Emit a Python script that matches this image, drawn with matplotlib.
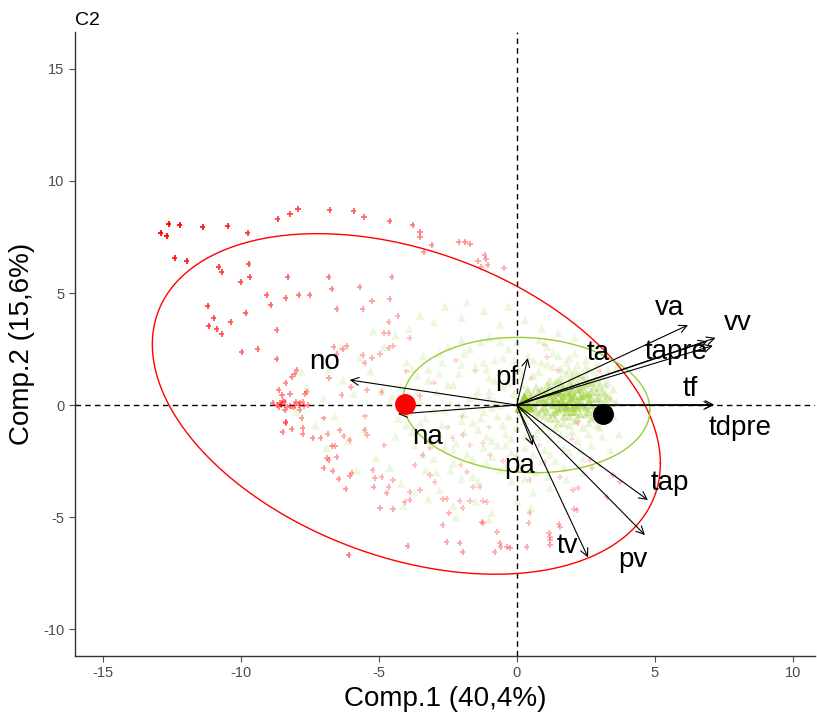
import numpy as np
import matplotlib.pyplot as plt

plt.rcParams['font.family'] = ['Liberation Sans', 'DejaVu Sans']
plt.rcParams['axes.unicode_minus'] = False

# individuals, group 1 (red)
red_x = [-12.9, -12.68, -12.61, -12.21, -11.38, -10.47, -9.75, -12.39, -11.96, -10.8, -10.69, -9.71, -9.67, -10.0,
         -8.66, -8.22, -7.93, -6.78, -5.91, -5.54, -4.6, -3.77, -3.51, -3.51, -3.08, -3.37, -2.1, -1.88, -1.7,
         -1.16, -1.12, -1.41, -1.3, -1.05, -0.47, -8.3, -6.81, -6.7, -5.69, -4.53, -9.06, -8.37, -7.9, -7.5,
         -5.25, -4.6,
         -11.2, -10.98, -11.16, -10.87, -10.69, -10.36, -9.82, -8.7, -9.38, -9.96, -8.7, -8.91, -6.52, -5.58,
         -4.31, -4.64, -4.82, -4.64, -3.88, -4.64, -4.49, -6.16, -6.3, -6.63, -6.52, -5.58, -5.25, -4.96, -5.51,
         -7.97, -8.04, -8.15, -8.37, -8.62, -8.51, -8.22, -7.68, -7.61,
         -8.84, -8.59, -8.41, -8.33, -7.86, -7.75, -7.57, -8.04, -8.41, -7.86, -8.37, -7.79, -6.34, -5.43, -4.89,
         -8.7, -8.5, -8.2, -7.9, -8.6, -7.7, -8.45, -8.0, -8.55, -8.1,
         -8.37, -8.48, -8.15, -7.75, -7.75, -7.39, -7.1, -6.85, -6.41, -6.27, -6.05, -6.7, -6.59, -6.88, -6.81,
         -6.52, -6.99, -6.67, -6.45, -6.05, -5.98, -6.2, -5.51, -5.43, -5.22, -5.14, -4.89, -5.18, -4.64, -4.49,
         -4.71, -4.96, -4.49, -4.06, -3.88, -3.88, -3.51, -3.7, -3.15, -2.97, -2.68, -2.54, -2.07, -1.7, -2.46,
         -2.68, -1.96, -1.59, -1.34, -1.23, -1.09, -1.27, -0.72, -2.54, -2.07, -1.96, -0.62, -0.58, -0.8, -0.36,
         -3.95, -6.09, -2.03, -1.81, -0.98, -1.23, -2.32, -1.96, -1.7, -3.15, -3.41,
         -1.23, -0.25, 0.47, 0.43, 0.36, 1.16, 1.2, 1.52, 2.07, 2.21, 3.26, 0.47,
         1.09, 1.49, 1.01, 1.56, 2.03, 2.17, 1.56, 1.2, 1.2, 3.48, 3.73, 2.72, 2.64,
         -3.0, -2.0, -1.5, -1.0, 0.5, 1.5, 2.5, -2.5, 3.0, 2.0, -0.5, 1.0, -3.5, -1.0, 0.8, 2.2, -2.2, -4.0,
         -5.5, -4.8, -6.0, -7.0, -6.8]
red_y = [7.68, 7.54, 8.08, 8.04, 7.95, 7.99, 7.68, 6.56, 6.43, 6.16, 5.94, 6.29, 5.71, 5.49,
         8.3, 8.53, 8.75, 8.71, 8.66, 8.39, 8.21, 8.04, 7.72, 7.5, 7.14, 6.83, 7.28, 7.28, 7.19,
         6.7, 6.52, 6.43, 6.16, 6.25, 6.12, 5.71, 5.71, 5.18, 5.27, 5.71, 4.91, 4.78, 4.91, 4.91,
         4.64, 4.73,
         4.42, 3.88, 3.53, 3.39, 3.17, 3.71, 4.11, 3.35, 2.5, 2.37, 2.05, 4.46, 4.29, 4.29,
         3.97, 3.71, 3.21, 3.21, 2.99, 2.54, 2.63, 2.63, 2.5, 2.59, 2.28, 2.23, 2.1, 2.28, 1.88,
         1.56, 1.38, 1.25, 0.98, 0.67, 0.45, 0.49, 0.49, 0.58,
         0.09, 0.09, 0.13, -0.09, 0.09, 0.13, 0.0, 0.0, -0.22, -0.22, -0.76, -0.58, 0.45, 0.67, 0.58,
         0.0, 0.05, -0.05, 0.0, -0.1, -0.05, 0.2, 0.15, 0.02, -0.12,
         -0.8, -1.21, -1.07, -1.03, -1.29, -1.47, -1.47, -1.29, -1.12, -1.38, -1.56, -1.83, -1.83, -2.37, -2.46,
         -2.32, -2.81, -2.95, -3.3, -3.17, -3.04, -3.75, -1.12, -1.34, -2.9, -3.26, -3.21, -3.66, -3.66, -3.35,
         -3.93, -4.6, -4.64, -4.33, -4.24, -3.88, -3.79, -2.68, -3.13, -3.44, -4.2, -4.2, -4.29, -4.29, -4.82,
         -5.36, -4.6, -3.66, -3.66, -4.29, -4.33, -5.22, -5.67, -6.12, -6.16, -6.56, -6.16, -6.34, -6.56, -6.34,
         -6.29, -6.7, -2.68, -2.99, -2.23, -1.7, -1.47, -1.34, -1.79, -1.92, -2.23,
         -5.27, -6.38, -4.82, -5.27, -6.34, -5.71, -6.03, -5.31, -4.64, -3.71, -4.11, -3.35,
         2.14, 1.56, -2.54, -3.21, -3.79, -4.69, -5.45, -5.89, -6.25, -3.13, -3.44, -2.81, -2.46,
         1.0, -0.5, 1.5, -1.0, 1.2, 0.5, 1.0, -1.0, 1.5, -1.5, -2.5, 2.7, 0.4, 0.3, -1.8, -0.8, 2.0, 1.5,
         -0.5, -1.8, 0.8, -0.6, 1.2]

# individuals, group 2 (green)
green_x = [0.2, 0.4, 0.5, 0.6, 0.7, 0.8, 0.9, 1.0, 1.0, 1.1, 1.2, 1.2, 1.3, 1.4, 1.4, 1.5, 1.5, 1.6, 1.6, 1.7,
           1.7, 1.8, 1.8, 1.9, 1.9, 2.0, 2.0, 2.0, 2.1, 2.1, 2.2, 2.2, 2.3, 2.3, 2.4, 2.4, 2.5, 2.5, 2.6, 2.6,
           2.7, 2.7, 2.8, 2.8, 2.9, 2.9, 3.0, 3.0, 3.1, 3.1, 3.2, 3.3, 3.3, 3.4, 3.5, 3.5, 1.3, 1.1, 0.9, 0.6,
           0.3, 0.4, 1.6, 1.9, 2.2, 2.5, 2.4, 2.0, 1.7, 1.4, 2.6, 2.9, 3.2, 3.0, 2.3, 1.8, 1.5, 2.7, 2.1, 3.6,
           0.3, 0.5, 0.6, 0.7, 0.8, 0.9, 1.0, 1.1, 1.2, 1.3, 1.4, 1.5, 1.6, 1.7, 1.8, 1.9, 2.0, 2.0, 2.1, 2.2,
           2.2, 2.3, 2.4, 2.5, 2.5, 2.6, 2.7, 2.8, 2.8, 2.9, 3.0, 3.1, 3.2, 3.3, 3.4, 1.1, 1.3, 1.5, 1.7, 1.9,
           2.1, 2.3, 2.6, 2.9, 3.1, 0.8, 1.0, 1.2, 1.6, 1.8, 2.0, 2.4, 2.7, 3.0, 0.5, 0.7, 1.4, 2.2, 1.9, 2.6,
           -4.2, -4.0, -3.8, -3.7, -3.5, -3.4, -3.3, -3.2, -3.0, -2.9, -2.8, -2.7, -2.6, -2.5, -2.4, -2.3, -2.2,
           -2.1, -2.0, -1.9, -1.8, -1.7, -1.6, -1.5, -1.4, -1.3, -1.2, -1.1, -1.0, -0.9, -0.8, -0.7, -0.6, -0.5,
           -0.4, -0.3, -0.2, -0.1, 0.0, 0.1, 0.2, 0.3, 0.4, 0.5, 0.6, 0.7, 0.8, 0.9, 1.0, 1.1, 1.2, 1.3, 1.4,
           1.5, 1.6, 1.8, 1.9, 2.1, 2.2, 2.4, 2.5, 2.7, 2.9, 3.1, 3.3, -3.9, -3.1, -2.4, -1.9, -1.4, -0.9, -0.6,
           -0.3, 0.2, -2.7, -3.6, -1.2, -0.4, 0.6, 1.7, -2.0, -1.0, 0.0, 0.8, -4.4, -4.6, -3.3, -2.0, -0.2, 1.1,
           -0.8, -1.6, -2.8, 0.3, -0.5, -1.1, -2.3, -3.5,
           -4.5, -4.3, -4.0, -3.8, -3.6, -3.4, -3.2, -3.0, -2.8, -2.6, -2.5, -2.3, -2.1, -2.0, -1.9, -1.7, -1.6,
           -1.5, -1.3, -1.2, -1.1, -1.0, -0.9, -0.8, -0.7, -0.6, -0.5, -0.4, -0.3, -0.2, -0.1, 0.0, 0.1, 0.2,
           0.3, 0.4, 0.5, 0.6, 0.7, 0.8, 0.9, 1.0, 1.1, 1.2, 1.3, 1.4, 1.6, 1.7, 1.9, 2.0, 2.2, 2.3, 2.5, 2.6,
           2.8, 3.0, -2.9, -1.4, 0.3, -0.6,
           -8.0, -7.6, -7.3, -7.0, -6.8, -6.6, -6.3, -6.1, -5.9, -5.7, -5.5, -5.3, -5.1, -4.9, -4.8, -4.6, -4.4,
           -4.2, -3.9, -3.7, -3.5, -3.2, -3.0, -2.8, -2.6, -2.3, -2.0, -1.8, -1.5, -1.2, -0.9, -0.6, -0.3, 0.0,
           0.3, 0.6, 0.9, 1.2, 1.5, 1.8, 2.1, 2.4, 2.7, 3.0, 3.2, 3.4, 3.6, 3.7, -6.9, -5.2, -7.8, -5.8, -4.1,
           -1.0, -2.2, 0.5, -6.4, -7.1]
green_y = [0.1, 0.3, -0.2, 0.5, 0.1, -0.4, 0.7, 0.2, -0.1, 0.9, -0.6, 0.4, 0.0, 1.0, -0.3, 0.6, -0.8, 0.2, 1.2, -0.5,
           0.8, 0.0, 1.4, -0.9, 0.5, 0.3, -0.3, 1.1, 1.5, -0.7, 0.1, 0.7, -0.4, 1.3, 0.4, -1.0, 0.9, -0.1, 1.6, 0.2,
           -0.6, 0.6, 1.1, -0.2, 0.3, -0.9, 0.8, 0.0, 1.3, -0.4, 0.5, -0.1, 1.0, 0.3, -0.5, 0.7, 0.5, -0.3, 0.3, -0.1,
           -0.4, 0.7, -0.1, 0.2, -0.1, 0.5, 1.2, 0.8, 0.4, 0.3, -0.3, 0.6, 0.2, -0.5, 0.4, -0.3, 0.1, 1.0, 0.0, 0.1,
           0.2, 0.4, 0.0, -0.3, 0.6, -0.2, 0.5, 0.1, 0.8, -0.4, 0.6, -0.2, 0.9, 0.1, 0.6, -0.5, 1.3, -0.1, 0.4, -0.6,
           1.0, 0.1, 0.8, -0.4, 1.3, 0.5, 0.0, 0.8, -0.5, 1.2, 0.3, -0.2, 0.9, 0.4, -0.2, 0.6, 0.2, 1.1, -0.8, 1.0,
           -0.3, 0.7, -0.8, -0.3, 0.6, 0.2, -0.5, 1.1, 0.5, -0.1, 0.6, 0.0, 0.3, 1.0, 0.2, 0.8, -0.6, 1.4, 1.6, 1.0,
           0.8, -0.9, 1.6, -1.8, 0.2, 2.2, -0.6, 1.1, -2.4, 0.6, -1.3, 1.9, -0.2, 2.6, -2.9, 0.9, -1.7,
           1.4, -0.7, 2.3, -2.2, 0.3, -3.2, 1.7, -1.1, 2.8, -0.3, -2.6, 1.2, -1.6, 2.0, -0.5, -2.9, 0.8,
           -1.3, 2.5, -2.1, 0.5, -1.0, 1.6, -2.6, -0.7, 2.2, -1.5, 1.3, -3.0, -1.1, 1.9, -2.0, 2.6, -1.5, 1.7, -2.5,
           2.2, -1.3, 1.9, -2.1, 2.3, -1.6, -2.4, 2.0, -1.8, 1.8, -1.4, 1.6, -0.3, -1.6, 0.1, -0.4, 0.6, -0.1, 1.5,
           -0.5, 0.9, -0.9, 1.3, -1.9, -1.8, -2.2, -2.8, 2.9, 3.0, 2.8, 2.9, -1.4, 0.1, -2.9, -3.3, -3.4, -3.2,
           0.2, -0.8, 1.4, -1.4, -0.9, 1.6, -2.0, -0.8,
           0.4, -0.6, 1.9, -1.2, 0.6, -2.2, 1.6, -0.2, 2.3, -1.9, 0.9, -2.6, 0.0, 1.8, -1.2, 2.5, -2.4,
           0.4, -0.6, 1.9, -1.4, 0.6, -2.3, 1.1, -1.8, 0.0, 2.1, -2.7, 1.0, -1.5, 2.0, -2.2, -0.4, 1.3,
           -1.9, 0.6, -2.8, 2.0, -1.4, 1.5, -2.5, -0.9, 1.8, -2.2, 2.3, -1.0, 1.6, -1.9, 2.1, -1.2, 1.8, -2.0, 1.7, -1.3,
           1.5, -1.0, -3.0, -3.4, -3.3, 2.8,
           -0.3, 0.8, -0.9, 0.3, 1.6, -0.5, 1.1, -1.6, 0.5, 2.1, -1.1, 1.5, -2.4, 0.6, 2.6, -2.8, 3.1,
           -3.5, 3.4, -3.9, 4.0, -4.2, 3.7, -3.8, 4.4, -4.5, 3.9, 4.6, -4.3, 4.2, -4.8, 3.6, 4.4, -4.3,
           3.8, -3.9, 3.4, -3.7, 3.2, -3.3, 3.0, -3.0, 2.7, -2.6, 2.4, -2.0, 1.6, -1.3, -1.9, 3.3, 1.5, -2.9, -4.5,
           -5.1, -5.0, -4.6, 2.6, 2.2]

group_names = ['1', '2', '3']
mean_x = [-4.06, 0.25, 3.12]
mean_y = [0.04, 0.15, -0.4]

# confidence ellipses: centre, half extent along x / y, correlation
ell_red = [-4.0, 0.05, 9.2, 7.6, -0.35]
ell_green = [0.35, 0.0, 4.47, 3.02, -0.07]

# variables
var_names = ['no', 'na', 'pf', 'pa', 'ta', 'tapre', 'va', 'vv', 'tf', 'tdpre', 'tap', 'pv', 'tv']
var_x = [-6.05, -4.3, 0.4, 0.58, 6.9, 7.1, 6.2, 7.2, 7.15, 7.1, 4.75, 4.64, 2.58]
var_y = [1.12, -0.4, 2.1, -1.8, 2.85, 2.65, 3.57, 3.0, 0.02, -0.02, -4.24, -5.8, -6.8]
lab_x = [-6.96, -3.22, -0.36, 0.11, 2.93, 5.76, 5.54, 8.0, 6.27, 8.08, 5.54, 4.2, 1.85]
lab_y = [1.92, -1.43, 1.2, -2.72, 2.32, 2.37, 4.33, 3.66, 0.71, -1.03, -3.48, -6.92, -6.29]

red_col = '#FF0000'
green_col = '#9ACD32'


def ellipse(p, n=200):
    t = np.linspace(0, 2 * np.pi, n)
    cx, cy, a, b, r = p
    return cx + a * np.cos(t), cy + b * (r * np.cos(t) + np.sqrt(1 - r * r) * np.sin(t))


fig = plt.figure(figsize=(8.17, 7.18), dpi=100)
ax = fig.add_axes([75 / 817, 62 / 718, 740 / 817, 624 / 718])

gx, gy = np.array(green_x), np.array(green_y)
gc = np.zeros((len(gx), 4))
gc[:, :3] = [154 / 255, 205 / 255, 50 / 255]
gc[:, 3] = 0.16 + 0.5 * np.exp(-((gx - 1.8) ** 2 / 1.8 + (gy - 0.2) ** 2 / 0.6))
ax.scatter(gx, gy, marker='^', s=38, c=gc, edgecolors='none', zorder=2)

rx, ry = np.array(red_x), np.array(red_y)
rc = np.zeros((len(rx), 4))
rc[:, 0] = 1.0
rc[:, 3] = np.clip(0.12 + 0.88 * ((rx ** 2 + ry ** 2) / 226.0) ** 0.8, 0, 1)
ax.scatter(rx, ry, marker='+', s=15, c=rc, linewidths=1.3, zorder=3)

ex, ey = ellipse(ell_red)
ax.plot(ex, ey, color=red_col, lw=1.0, zorder=4)
ex, ey = ellipse(ell_green)
ax.plot(ex, ey, color=green_col, lw=1.0, zorder=4)

ax.axhline(0, color='black', lw=1, ls=(0, (4, 3)), zorder=1)
ax.axvline(0, color='black', lw=1, ls=(0, (4, 3)), zorder=1)

for vx, vy in zip(var_x, var_y):
    ax.annotate('', xy=(vx, vy), xytext=(0, 0),
                arrowprops=dict(arrowstyle='->', lw=0.8, color='black', mutation_scale=14,
                                shrinkA=0, shrinkB=0), zorder=5)

ax.plot(mean_x[0], mean_y[0], 'o', color=red_col, ms=14, zorder=6)
ax.plot(mean_x[1], mean_y[1], '^', color=green_col, ms=13, zorder=4)
ax.plot(mean_x[2], mean_y[2], 'o', color='black', ms=14, zorder=6)

for name, lx, ly in zip(var_names, lab_x, lab_y):
    ax.text(lx, ly, name, fontsize=20, ha='center', va='center', color='black', zorder=7)

ax.set_xlim(-16.0, 10.8)
ax.set_ylim(-11.2, 16.65)
ax.set_xticks([-15, -10, -5, 0, 5, 10])
ax.set_yticks([-10, -5, 0, 5, 10, 15])
ax.tick_params(colors='#4D4D4D', labelsize=10.5, length=4, width=0.8)
for s in ['top', 'right']:
    ax.spines[s].set_visible(False)
for s in ['left', 'bottom']:
    ax.spines[s].set_color('#333333')
    ax.spines[s].set_linewidth(1.0)
ax.set_xlabel('Comp.1 (40,4%)', fontsize=20, labelpad=4)
ax.set_ylabel('Comp.2 (15,6%)', fontsize=20, labelpad=6)
ax.set_title('C2', loc='left', fontsize=14, pad=5)

fig.savefig('out.png', dpi=100)
